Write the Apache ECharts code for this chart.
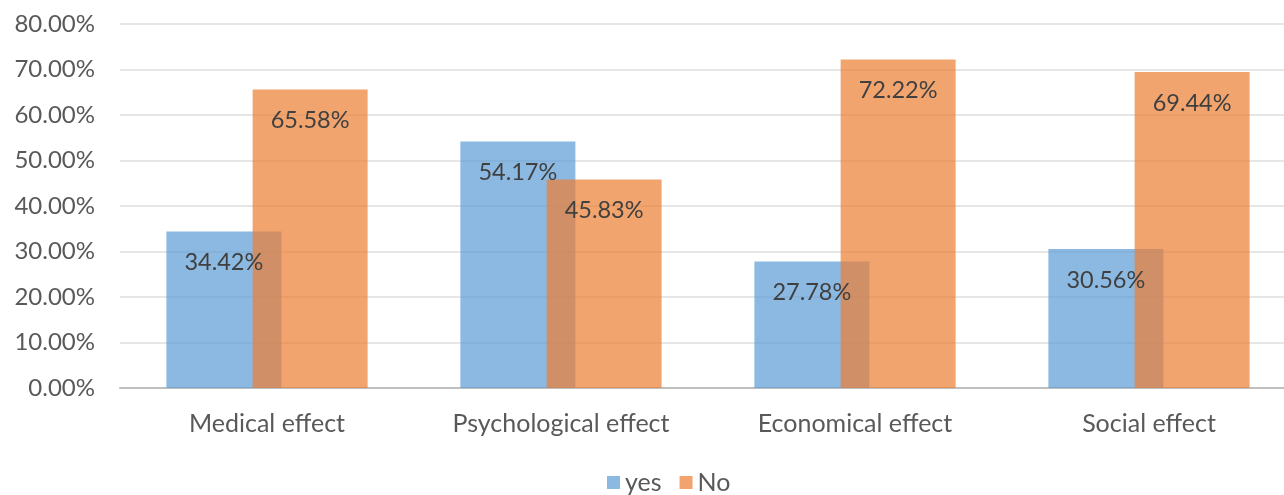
<!DOCTYPE html>
<html>
<head>
<meta charset="utf-8">
<script src="https://cdn.jsdelivr.net/npm/echarts@6/dist/echarts.min.js"></script>
<style>
  html, body { margin: 0; padding: 0; background: #fff; }
  #chart { width: 1284px; height: 495px; }
</style>
</head>
<body>
<div id="chart"></div>
<script>
const categories = ['Medical effect', 'Psychological effect', 'Economical effect', 'Social effect'];
const yesValues = [34.42, 54.17, 27.78, 30.56];
const noValues = [65.58, 45.83, 72.22, 69.44];
const seriesNames = ['yes', 'No'];

const FONT = 'Lato, "Open Sans", sans-serif';

const myChart = echarts.init(document.getElementById('chart'), null, { renderer: 'canvas' });

const barLabel = {
  show: true,
  position: 'insideTop',
  distance: 19,
  color: '#404040',
  fontSize: 23.5,
  fontFamily: FONT,
  formatter: (p) => p.value.toFixed(2) + '%',
};

// plot area runs past the right edge of the picture, like the source
myChart.setOption({
  animation: false,
  grid: {
    top: 24,
    bottom: 107,
    left: 120,
    right: -12,
    containLabel: false,
    outerBoundsMode: 'none',
  },
  legend: {
    top: 465,
    left: 602,
    itemWidth: 13,
    itemHeight: 13,
    itemGap: 18,
    icon: 'rect',
    textStyle: { fontSize: 25, color: '#595959', fontFamily: FONT },
    data: seriesNames,
  },
  xAxis: {
    type: 'category',
    data: categories,
    axisTick: { show: false },
    axisLine: { lineStyle: { color: '#bfbfbf', width: 2 } },
    axisLabel: { fontSize: 25, color: '#595959', fontFamily: FONT, margin: 23 },
  },
  yAxis: {
    type: 'value',
    min: 0,
    max: 80,
    interval: 10,
    axisLine: { show: false },
    axisTick: { show: false },
    splitLine: { lineStyle: { color: '#e6e6e6', width: 2 } },
    axisLabel: {
      fontSize: 24,
      color: '#595959',
      fontFamily: FONT,
      margin: 25,
      formatter: (v) => v.toFixed(2) + '%',
    },
  },
  series: [
    {
      name: seriesNames[0],
      type: 'bar',
      data: yesValues,
      barWidth: 115,
      barGap: '-25%',
      itemStyle: { color: 'rgba(91, 155, 213, 0.7)' },
      label: barLabel,
    },
    {
      name: seriesNames[1],
      type: 'bar',
      data: noValues,
      barWidth: 115,
      barGap: '-25%',
      itemStyle: { color: 'rgba(237, 125, 49, 0.7)' },
      label: barLabel,
    },
  ],
});
</script>
</body>
</html>
